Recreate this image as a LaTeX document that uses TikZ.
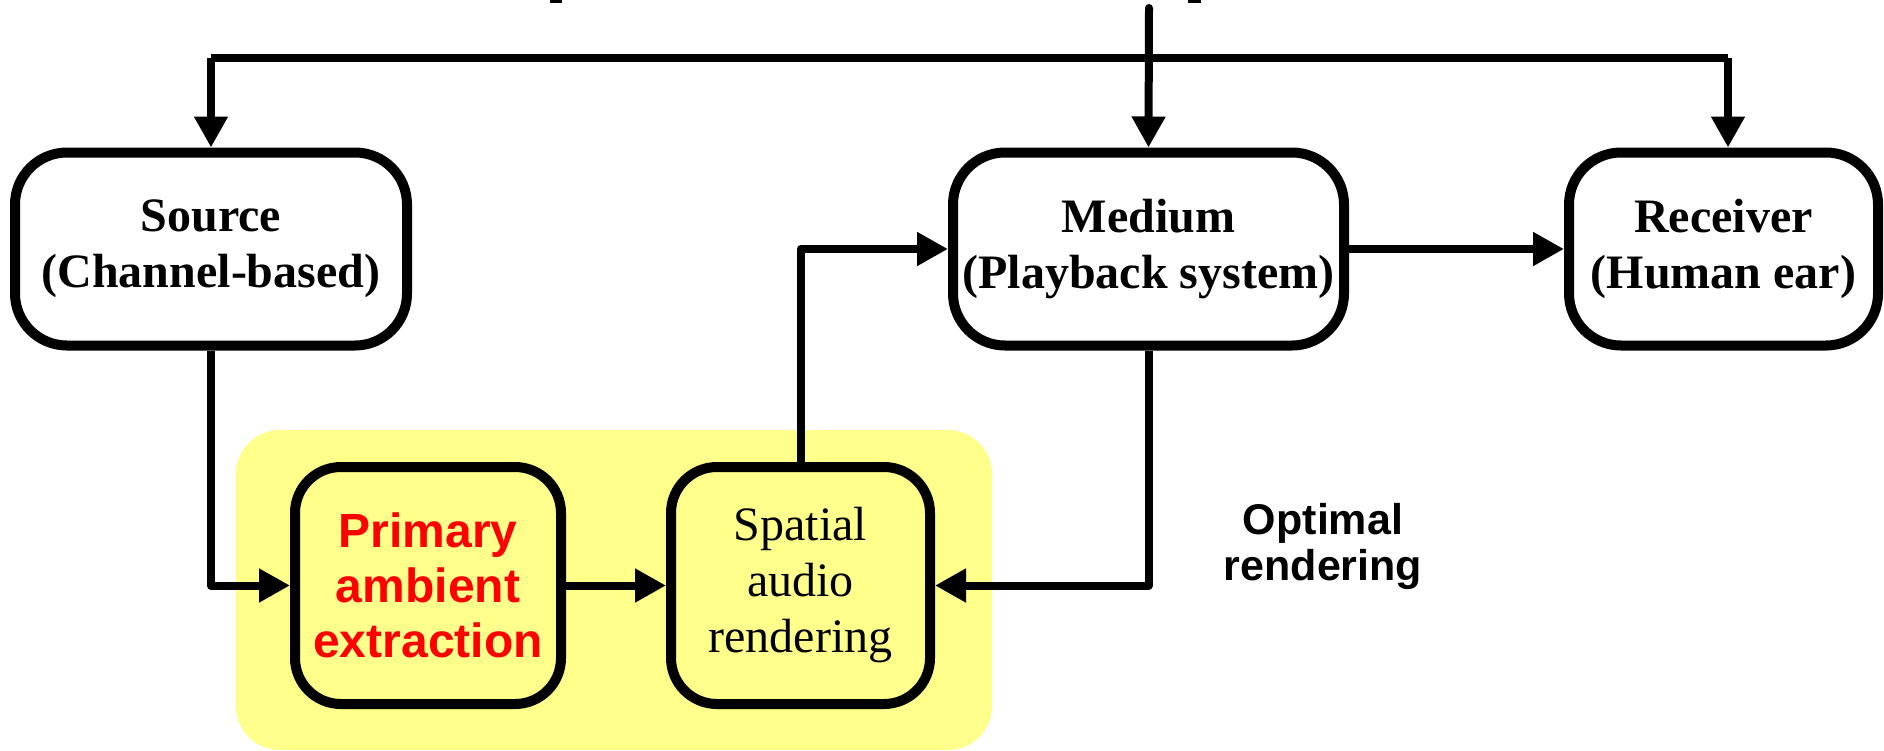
\documentclass[tikz,border=0pt]{standalone}
\usepackage{fontspec}
\setmainfont{Liberation Serif}
\newfontfamily\arialfont{Liberation Sans}
\usetikzlibrary{arrows.meta}
\definecolor{hl}{RGB}{255,255,140}
\begin{document}
\begin{tikzpicture}[x=0.5pt,y=-0.5pt,
  box/.style={draw=black, line width=5pt, align=center, inner sep=0pt,
    font=\fontsize{23.5}{27.5}\selectfont},
  topbox/.style={box, rounded corners=26pt, minimum height=96.5pt, font=\fontsize{24}{28}\selectfont\bfseries},
  lowbox/.style={box, rounded corners=23pt, minimum height=118.5pt},
  arr/.style={line width=4pt, line join=round, -{Triangle[length=15.5pt,width=16pt]}},
  conn/.style={line width=4pt, line join=round}]
\useasboundingbox (0,0) rectangle (1884,750);
\fill[hl, rounded corners=22pt] (236,430) rectangle (992,750);
\fill (550,0) rectangle (562,3);
\fill (1188,0) rectangle (1201,3);

\node[topbox, minimum width=196pt] (src) at (211,249) {Source\\(Channel-based)};
\node[topbox, minimum width=195.5pt] (med) at (1148.5,249) {Medium\\(Playback system)};
\node[topbox, minimum width=154.5pt] (recv) at (1723.5,249) {Receiver\\(Human ear)};
\node[lowbox, minimum width=133pt, text=red, font=\arialfont\bfseries\fontsize{24}{27.5}\selectfont] (prim) at (428,585.5) {Primary\\ambient\\extraction};
\node[lowbox, minimum width=129.5pt, font=\fontsize{24}{28}\selectfont] (spat) at (800.5,585.5) {Spatial\\audio\\rendering};
\node[align=center, inner sep=0pt, font=\arialfont\bfseries\fontsize{21.5}{23}\selectfont] (opt) at (1323,546) {Optimal\\rendering};

\coordinate (tl) at (211,58);
\coordinate (tr) at (1728,58);
\coordinate (top) at (1149,8);
\draw[conn] (tl) -- (tr);
\draw[arr] (tl) -- (src.north);
\draw[arr] (tr) -- (tr |- recv.north);
\draw[arr, line cap=round] (top) -- (med.north);
\draw[arr] (src.south) |- (prim.west);
\draw[arr] (prim.east) -- (spat.west);
\draw[arr] (spat.north) |- (med.west);
\draw[arr] (med.east) -- (recv.west);
\draw[arr] (med.south) |- (spat.east);
\end{tikzpicture}
\end{document}
